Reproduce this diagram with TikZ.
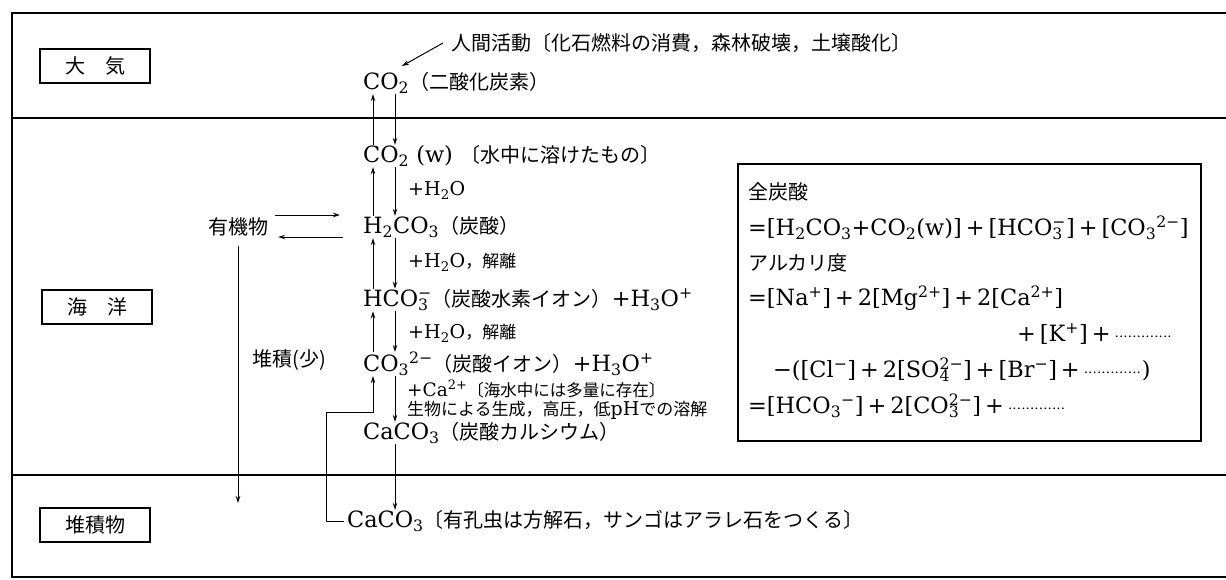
\documentclass[tikz,border=0pt]{standalone}
\usepackage{fontspec}
\setmainfont{DejaVu Serif}[Scale=1.12]
\newfontfamily\jp{Noto Sans CJK JP}
\usetikzlibrary{arrows.meta}
\newcommand{\chsub}[1]{\textsubscript{#1}}
\newcommand{\chsup}[1]{\textsuperscript{#1}}
\newcommand{\chion}[2]{\rlap{\textsubscript{#1}}\textsuperscript{#2}}
\newcommand{\pl}{\hspace{4pt}+\hspace{4pt}}
\newcommand{\dts}[1]{\hbox to #1{\leaders\hbox to 4.4pt{\hss\fontsize{12}{12}\selectfont ·\hss}\hfill}}
\tikzset{
  x=1pt, y=-1pt,
  frame/.style={line width=1.6pt},
  lbox/.style={draw, line width=1.6pt, minimum width=110pt, minimum height=34pt, inner sep=0pt, font=\fontsize{20}{24}\selectfont\jp},
  sp/.style={anchor=west, inner sep=0pt, minimum height=22pt, font=\fontsize{20}{24}\selectfont},
  lab/.style={anchor=west, inner sep=0pt, font=\fontsize{17}{20}\selectfont},
  boxtxt/.style={anchor=west, inner sep=0pt, font=\fontsize{20}{24}\selectfont},
  arr/.style={-{Stealth[length=7pt,width=4.5pt]}, line width=1pt}
}
\begin{document}
\begin{tikzpicture}
\useasboundingbox (0,0) rectangle (1226,579);
% frame and dividers
\draw[frame] (1226,13) -- (12,13) -- (12,577) -- (1226,577);
\draw[frame] (12,118) -- (1226,118);
\draw[frame] (12,475) -- (1226,475);
% layer labels
\node[lbox] (atm) at (95,66) {大　気};
\node[lbox] (sea) at (97,307) {海　洋};
\node[lbox] (sed) at (95,525) {堆積物};
% columns
\coordinate (ux) at (373,0);
\coordinate (dx) at (395,0);
% species
\node[sp] (human) at (451,43) {\jp 人間活動〔化石燃料の消費，森林破壊，土壌酸化〕};
\node[sp] (co2a) at (363,83) {CO\chsub{2}{\jp （二酸化炭素）}};
\node[sp] (co2w) at (363,156) {CO\chsub{2} (w) {\jp 〔水中に溶けたもの〕}};
\node[sp] (h2co3) at (363,227) {H\chsub{2}CO\chsub{3}{\jp （炭酸）}};
\node[sp] (hco3) at (363,300) {HCO\chion{3}{−}{\jp （炭酸水素イオン）}+H\chsub{3}O\chsup{+}};
\node[sp] (co3) at (363,364) {CO\chsub{3}\chsup{2−}{\jp （炭酸イオン）}+H\chsub{3}O\chsup{+}};
\node[sp] (caco3) at (363,433) {CaCO\chsub{3}{\jp （炭酸カルシウム）}};
\node[sp] (caco3b) at (347,521) {CaCO\chsub{3}{\jp 〔有孔虫は方解石，サンゴはアラレ石をつくる〕}};
% reaction labels
\node[lab] (l1) at (408,190) {+H\chsub{2}O};
\node[lab] (l2) at (408,262) {+H\chsub{2}O{\jp ，解離}};
\node[lab] (l3) at (408,333) {+H\chsub{2}O{\jp ，解離}};
\node[lab, font=\fontsize{16.5}{18}\selectfont] (l4) at (407,389) {+Ca\chsup{2+}{\jp 〔海水中には多量に存在〕}};
\node[lab] (l5) at (407,410) {{\jp 生物による生成，高圧，低}pH{\jp での溶解}};
% organic matter
\node[inner sep=0pt, minimum height=22pt, font=\fontsize{20}{24}\selectfont\jp] (yuki) at (238,227) {有機物};
\node[inner sep=0pt, font=\fontsize{20}{24}\selectfont\jp] (sedl) at (289,360) {堆積(少)};
\coordinate (sedtip) at (238,503);
\coordinate (humtip) at (402,66);
\coordinate (loopc) at (326,412);
% arrows
\draw[arr] ([xshift=-8pt]human.west) -- (humtip);
\draw[arr] (co2w.north -| ux) -- (co2a.south -| ux);
\draw[arr] (co2a.south -| dx) -- (co2w.north -| dx);
\draw[arr] (h2co3.north -| ux) -- (co2w.south -| ux);
\draw[arr] (co2w.south -| dx) -- (h2co3.north -| dx);
\draw[arr] (hco3.north -| ux) -- (h2co3.south -| ux);
\draw[arr] (h2co3.south -| dx) -- (hco3.north -| dx);
\draw[arr] (co3.north -| ux) -- (hco3.south -| ux);
\draw[arr] (hco3.south -| dx) -- (co3.north -| dx);
\draw[arr] (co3.south -| dx) -- (caco3.north -| dx);
\draw[arr] (caco3.south -| dx) -- (caco3b.north -| dx);
\draw[arr] ([xshift=-3pt]caco3b.west) -| (loopc) -- (loopc -| ux) -- (co3.south -| ux);
\draw[arr] ([xshift=7pt,yshift=12pt]yuki.east) -- ([xshift=-23pt,yshift=12pt]h2co3.west);
\draw[arr] ([xshift=-20pt,yshift=-10pt]h2co3.west) -- ([xshift=10pt,yshift=-10pt]yuki.east);
\draw[arr] ([yshift=-8pt]yuki.south) -- (sedtip);
% carbonate box
\node[draw, line width=1.6pt, anchor=north west, minimum width=463pt, minimum height=277pt, inner sep=0pt] (cbox) at (737,163) {};
\node[boxtxt] (t1) at (748,192) {\jp 全炭酸};
\node[boxtxt] (t2) at (748,228) {=[H\chsub{2}CO\chsub{3}+CO\chsub{2}(w)]\pl[HCO\chion{3}{−}]\pl[CO\chsub{3}\chsup{2−}]};
\node[boxtxt] (t3) at (748,263) {\jp アルカリ度};
\node[boxtxt] (t4) at (748,298) {=[Na\chsup{+}]\pl 2[Mg\chsup{2+}]\pl 2[Ca\chsup{2+}]};
\node[boxtxt] (t5) at (1017,334) {+\hspace{4pt}[K\chsup{+}]\pl\dts{58pt}};
\node[boxtxt] (t6) at (773,370) {−([Cl\chsup{−}]\pl 2[SO\chion{4}{2−}]\pl[Br\chsup{−}]\pl\dts{58pt})};
\node[boxtxt] (t7) at (748,406) {=[HCO\chsub{3}\chsup{−}]\pl 2[CO\chion{3}{2−}]\pl\dts{58pt}};
\end{tikzpicture}
\end{document}
